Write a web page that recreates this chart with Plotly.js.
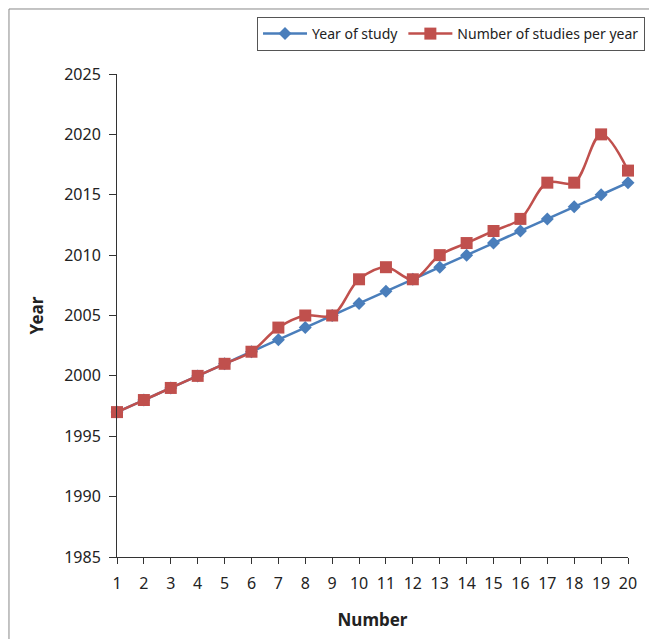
<!DOCTYPE html>
<html><head><meta charset="utf-8">
<script src="https://cdn.plot.ly/plotly-3.0.1.min.js"></script>
<style>html,body{margin:0;padding:0;background:#fff;}#chart{width:649px;height:639px;}</style>
</head><body><div id="chart"></div>
<script>
const numbers = [1,2,3,4,5,6,7,8,9,10,11,12,13,14,15,16,17,18,19,20];
const yearOfStudy = [1997,1998,1999,2000,2001,2002,2003,2004,2005,2006,2007,2008,2009,2010,2011,2012,2013,2014,2015,2016];
const studiesPerYear = [1997,1998,1999,2000,2001,2002,2004,2005,2005,2008,2009,2008,2010,2011,2012,2013,2016,2016,2020,2017];
const yTicks = [1985,1990,1995,2000,2005,2010,2015,2020,2025];

const fontFam = '"Noto Sans", "Open Sans", sans-serif';
const traces = [
  {x: numbers, y: yearOfStudy, name: 'Year of study', type: 'scatter', mode: 'lines+markers',
   line: {color: '#4a7ebb', width: 2.5, shape: 'spline'},
   marker: {symbol: 'diamond', size: 10, color: '#4a7ebb'}, cliponaxis: false},
  {x: numbers, y: studiesPerYear, name: 'Number of studies per year', type: 'scatter', mode: 'lines+markers',
   line: {color: '#c0504d', width: 2.5, shape: 'spline', smoothing: 1},
   marker: {symbol: 'square', size: 12, color: '#c0504d'}, cliponaxis: false}
];
const layout = {
  width: 649, height: 639,
  margin: {l: 117, r: 21, t: 74, b: 82, autoexpand: false},
  paper_bgcolor: '#fff', plot_bgcolor: '#fff',
  font: {family: fontFam, size: 14, color: '#222'},
  showlegend: true,
  legend: {orientation: 'h', x: 1.0333, xanchor: 'right', y: 1.118, yanchor: 'top',
           bordercolor: '#555', borderwidth: 1, bgcolor: '#fff', font: {size: 14, color: '#222'},
           itemwidth: 44, traceorder: 'normal'},
  xaxis: {range: [1, 20], tickvals: numbers, ticktext: numbers.map(String), ticks: 'outside', ticklen: 6,
          tickcolor: '#333', showline: true, linecolor: '#333', linewidth: 1, showgrid: false, zeroline: false,
          ticklabelstandoff: 6,
          title: {text: '<b>Number</b>', font: {size: 17, color: '#222'}, standoff: 20}, tickfont: {size: 16}},
  yaxis: {range: [1985, 2025], tickvals: yTicks, ticks: 'outside', ticklen: 7, tickcolor: '#333',
          showline: true, linecolor: '#333', linewidth: 1, showgrid: false, zeroline: false,
          ticklabelstandoff: 5,
          title: {text: '<b>Year</b>', font: {size: 17, color: '#222'}, standoff: 16}, tickfont: {size: 16}},
  shapes: [{type: 'rect', xref: 'paper', yref: 'paper', x0: -0.2114, x1: 1.2, y0: -0.3, y1: 1.1346,
            line: {color: '#888', width: 1}, fillcolor: 'rgba(0,0,0,0)', layer: 'below'}]
};
Plotly.newPlot('chart', traces, layout, {displayModeBar: false, staticPlot: true});
</script></body></html>
